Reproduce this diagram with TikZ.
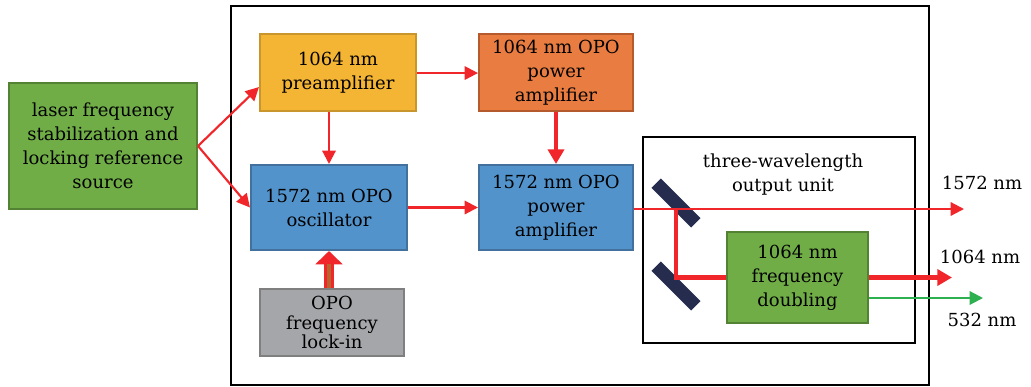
\documentclass[tikz,border=0pt]{standalone}
\usepackage{fontspec}
\setmainfont{DejaVu Serif}
\usetikzlibrary{arrows.meta,calc}
\definecolor{SrcGreen}{HTML}{70AD47}
\definecolor{SrcGreenD}{HTML}{548235}
\definecolor{PreYellow}{HTML}{F4B434}
\definecolor{PreYellowD}{HTML}{C8962C}
\definecolor{AmpOrange}{HTML}{E97C40}
\definecolor{AmpOrangeD}{HTML}{B45A2C}
\definecolor{OpoBlue}{HTML}{5393CB}
\definecolor{OpoBlueD}{HTML}{41719C}
\definecolor{LockGray}{HTML}{A5A6A9}
\definecolor{LockGrayD}{HTML}{7F7F7F}
\definecolor{MirrorNavy}{HTML}{262C4E}
\definecolor{BeamRed}{HTML}{F0262A}
\definecolor{BeamGreen}{HTML}{2DB04F}
\definecolor{LockBrown}{HTML}{B5652D}

\begin{document}
\begin{tikzpicture}[x=0.75pt, y=-0.75pt,
  blk/.style={draw, line width=1.5pt, align=center, inner sep=0pt, font=\fontsize{13.5}{18}\selectfont},
  lbl/.style={align=center, inner sep=0pt, font=\fontsize{13.5}{18}\selectfont},
  mirror/.style={fill=MirrorNavy, minimum width=42pt, minimum height=10pt, inner sep=0pt},
  beam/.style={draw=BeamRed, line width=1.6pt, -{Triangle[length=10pt,width=10pt]}},
  thickbeam/.style={draw=BeamRed, line width=3.2pt, -{Triangle[length=11pt,width=12pt]}},
  greenbeam/.style={draw=BeamGreen, line width=1.6pt, -{Triangle[length=10pt,width=10pt]}}]
\useasboundingbox (0,0) rectangle (1031,386);
\draw[line width=1.3pt] (231,6) rectangle (929,385);

% blocks
\node[blk, fill=SrcGreen, draw=SrcGreenD, minimum width=141pt, minimum height=94.5pt] (src) at (103,146)
  {laser frequency\\stabilization and\\locking reference\\source};
\node[blk, fill=PreYellow, draw=PreYellowD, minimum width=117pt, minimum height=57.75pt] (pre) at (338,72.5)
  {1064 nm\\preamplifier};
\node[blk, fill=AmpOrange, draw=AmpOrangeD, minimum width=115.5pt, minimum height=57.75pt] (opa) at (556,72.5)
  {1064 nm OPO\\power\\amplifier};
\node[blk, fill=OpoBlue, draw=OpoBlueD, minimum width=117pt, minimum height=63.75pt] (osc) at (329,207.5)
  {1572 nm OPO\\oscillator};
\node[blk, fill=OpoBlue, draw=OpoBlueD, minimum width=115.5pt, minimum height=63.75pt] (ppa) at (556,207.5)
  {1572 nm OPO\\power\\amplifier};
\node[blk, fill=LockGray, draw=LockGrayD, minimum width=108pt, minimum height=50.25pt,
  font=\fontsize{13.5}{14.6}\selectfont] (lock) at (332,322.5)
  {OPO\\frequency\\lock-in};

% output unit
\draw[line width=1.3pt] (643,137) rectangle (915,343);
\node[lbl] (ttl) at (783,175) {three-wavelength\\output unit};
\node[blk, fill=SrcGreen, draw=SrcGreenD, minimum width=105.75pt, minimum height=68.25pt] (dbl) at (797.5,277.5)
  {1064 nm\\frequency\\doubling};
\node[mirror, rotate=-45] (m1) at (676,203) {};
\node[mirror, rotate=-45] (m2) at (676,286) {};

% outputs
\coordinate (o1572) at (964,209);
\coordinate (o1064) at (952,277.5);
\coordinate (o532) at (983,298);
\node[lbl] (l1572) at (982,183) {1572 nm};
\node[lbl] (l1064) at (980,257) {1064 nm};
\node[lbl] (l532) at (982,320) {532 nm};

% connections
\draw[beam] (src.east) -- ([yshift=-10.9pt]pre.west);
\draw[beam] (src.east) -- (osc.west);
\draw[beam] (pre.south -| osc.north) -- (osc.north);
\draw[beam] ([yshift=-0.4pt]pre.east) -- ([yshift=-0.4pt]opa.west);
\draw[thickbeam, line width=3pt] (opa.south) -- (ppa.north);
\draw[beam] (osc.east) -- (ppa.west);
\draw[draw=BeamRed, line width=7.5pt, -{Triangle[length=10pt,width=20pt]}] (osc.south |- lock.north) -- (osc.south);
\draw[LockBrown, line width=3pt] (osc.south |- lock.north) -- ++(0,-24);
\draw[beam] (ppa.east |- o1572) -- (o1572);
\draw[draw=BeamRed, line width=3.2pt] (o1572 -| m1) -- (dbl.west -| m1) -- (dbl.west);
\draw[thickbeam] (dbl.east) -- (o1064);
\draw[greenbeam] (dbl.east |- o532) -- (o532);
\end{tikzpicture}
\end{document}
